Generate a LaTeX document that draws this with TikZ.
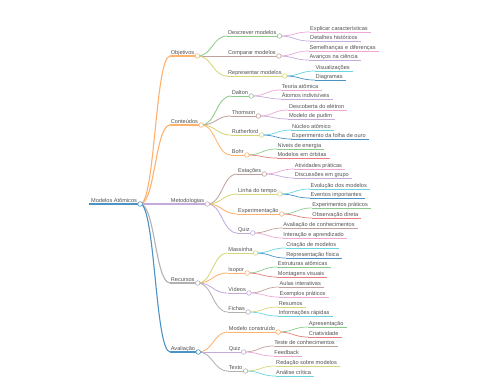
\documentclass[tikz,border=0pt]{standalone}
\usepackage{fontspec}
\setmainfont{Liberation Sans}
\usetikzlibrary{calc}
\definecolor{cB0}{HTML}{1F77B4}
\definecolor{cO0}{HTML}{FF7F0E}
\definecolor{cG0}{HTML}{2CA02C}
\definecolor{cR0}{HTML}{D62728}
\definecolor{cP0}{HTML}{9467BD}
\definecolor{cBr0}{HTML}{8C564B}
\definecolor{cPk0}{HTML}{E377C2}
\definecolor{cGr0}{HTML}{7F7F7F}
\definecolor{cOl0}{HTML}{BCBD22}
\definecolor{cC0}{HTML}{17BECF}
\colorlet{cB}{cB0!80!white}
\colorlet{cO}{cO0!60!white}
\colorlet{cG}{cG0!55!white}
\colorlet{cR}{cR0!60!white}
\colorlet{cP}{cP0!55!white}
\colorlet{cBr}{cBr0!55!white}
\colorlet{cPk}{cPk0!65!white}
\colorlet{cGr}{cGr0!60!white}
\colorlet{cOl}{cOl0!60!white}
\colorlet{cC}{cC0!65!white}
\tikzset{
  mmtxt/.style={font=\fontsize{5.6}{6}\selectfont, text=black!68, inner xsep=0.5pt,
    inner ysep=0.4pt, text height=4.2pt, text depth=1.3pt, anchor=south west},
  wA/.style={line width=1.1pt},
  wB/.style={line width=0.85pt},
  wC/.style={line width=0.7pt},
  mmdot/.style={fill=white, line width=0.6pt}
}
\newcommand\mmlink[3]{%
  \draw[#3] let \p1=(#1), \p2=(#2) in (\p1) .. controls ({0.5*\x1+0.5*\x2},\y1) and ({0.5*\x1+0.5*\x2},\y2) .. (\p2);}
\newcommand\mmkid[5]{%
  \path let \p1=(#2-r) in coordinate (#1-l) at (\x1+30pt,-#3pt);
  \node[mmtxt] (#1) at (#1-l) {#5};
  \coordinate (#1-r) at ([xshift=2.5pt]#1.south east);
  \draw[#4] (#1-l) -- (#1-r);
  \mmlink{#2-r}{#1-l}{#4}}
\begin{document}
\begin{tikzpicture}[x=1pt,y=-1pt]
\useasboundingbox (0,0) rectangle (480,384);
% root
\coordinate (root-l) at (89,204);
\node[mmtxt, inner xsep=2pt] (root) at (root-l) {Modelos Atômicos};
\coordinate (root-r) at ([xshift=1pt]root.south east);
\draw[cB,wA] (root-l) -- (root-r);
% level 1
\mmkid{obj}{root}{56}{cO,wA}{Objetivos}
\mmkid{con}{root}{125}{cO,wA}{Conteúdos}
\mmkid{met}{root}{204}{cP,wA}{Metodologias}
\mmkid{rec}{root}{283}{cGr,wA}{Recursos}
\mmkid{ava}{root}{352}{cB,wA}{Avaliação}
% Objetivos
\mmkid{desc}{obj}{36}{cG,wB}{Descrever modelos}
\mmkid{comp}{obj}{56}{cBr,wB}{Comparar modelos}
\mmkid{repr}{obj}{76}{cOl,wB}{Representar modelos}
\mmkid{expl}{desc}{32}{cPk,wC}{Explicar características}
\mmkid{deth}{desc}{41}{cP,wC}{Detalhes históricos}
\mmkid{seme}{comp}{51}{cPk,wC}{Semelhanças e diferenças}
\mmkid{avan}{comp}{60}{cP,wC}{Avanços na ciência}
\mmkid{visu}{repr}{71}{cC,wC}{Visualizações}
\mmkid{diag}{repr}{80}{cB,wC}{Diagramas}
% Conteudos
\mmkid{dal}{con}{96}{cG,wB}{Dalton}
\mmkid{tho}{con}{116}{cBr,wB}{Thomson}
\mmkid{rut}{con}{135}{cOl,wB}{Rutherford}
\mmkid{boh}{con}{155}{cO,wB}{Bohr}
\mmkid{teo}{dal}{90}{cPk,wC}{Teoria atômica}
\mmkid{ato}{dal}{99}{cP,wC}{Átomos indivisíveis}
\mmkid{desel}{tho}{110}{cPk,wC}{Descoberta do elétron}
\mmkid{pud}{tho}{119}{cP,wC}{Modelo de pudim}
\mmkid{nuc}{rut}{130}{cC,wC}{Núcleo atômico}
\mmkid{fol}{rut}{139}{cB,wC}{Experimento da folha de ouro}
\mmkid{niv}{boh}{149}{cG,wC}{Níveis de energia}
\mmkid{orb}{boh}{158}{cR,wC}{Modelos em órbitas}
% Metodologias
\mmkid{est}{met}{174}{cBr,wB}{Estações}
\mmkid{lin}{met}{194}{cOl,wB}{Linha do tempo}
\mmkid{exper}{met}{214}{cO,wB}{Experimentação}
\mmkid{qui}{met}{233}{cP,wB}{Quiz}
\mmkid{ativ}{est}{169}{cPk,wC}{Atividades práticas}
\mmkid{disc}{est}{178}{cP,wC}{Discussões em grupo}
\mmkid{evo}{lin}{189}{cC,wC}{Evolução dos modelos}
\mmkid{eve}{lin}{198}{cB,wC}{Eventos importantes}
\mmkid{expp}{exper}{208}{cG,wC}{Experimentos práticos}
\mmkid{obs}{exper}{218}{cR,wC}{Observação direta}
\mmkid{avc}{qui}{228}{cBr,wC}{Avaliação de conhecimentos}
\mmkid{inter}{qui}{238}{cPk,wC}{Interação e aprendizado}
% Recursos
\mmkid{mas}{rec}{253}{cOl,wB}{Massinha}
\mmkid{iso}{rec}{273}{cO,wB}{Isopor}
\mmkid{vid}{rec}{293}{cP,wB}{Vídeos}
\mmkid{fic}{rec}{312}{cGr,wB}{Fichas}
\mmkid{cri}{mas}{248}{cC,wC}{Criação de modelos}
\mmkid{repf}{mas}{258}{cB,wC}{Representação física}
\mmkid{estr}{iso}{267}{cG,wC}{Estruturas atômicas}
\mmkid{mon}{iso}{277}{cR,wC}{Montagens visuais}
\mmkid{aul}{vid}{287}{cBr,wC}{Aulas interativas}
\mmkid{exe}{vid}{297}{cPk,wC}{Exemplos práticos}
\mmkid{res}{fic}{307}{cOl,wC}{Resumos}
\mmkid{inf}{fic}{316}{cC,wC}{Informações rápidas}
% Avaliacao
\mmkid{moc}{ava}{332}{cO,wB}{Modelo construído}
\mmkid{qud}{ava}{352}{cP,wB}{Quiz}
\mmkid{tex}{ava}{371}{cGr,wB}{Texto}
\mmkid{apr}{moc}{327}{cG,wC}{Apresentação}
\mmkid{cria}{moc}{337}{cR,wC}{Criatividade}
\mmkid{tes}{qud}{346}{cBr,wC}{Teste de conhecimentos}
\mmkid{fee}{qud}{356}{cPk,wC}{Feedback}
\mmkid{red}{tex}{366}{cOl,wC}{Redação sobre modelos}
\mmkid{ana}{tex}{376}{cC,wC}{Análise crítica}
% circles
\foreach \n/\c in {root/cB,obj/cO,con/cO,met/cP,rec/cGr,ava/cB,
  desc/cG,comp/cBr,repr/cOl,dal/cG,tho/cBr,rut/cOl,boh/cO,
  est/cBr,lin/cOl,exper/cO,qui/cP,mas/cOl,iso/cO,vid/cP,fic/cGr,
  moc/cO,qud/cP,tex/cGr}
  \draw[mmdot,draw=\c] (\n-r) circle (2.3pt);
\end{tikzpicture}
\end{document}
